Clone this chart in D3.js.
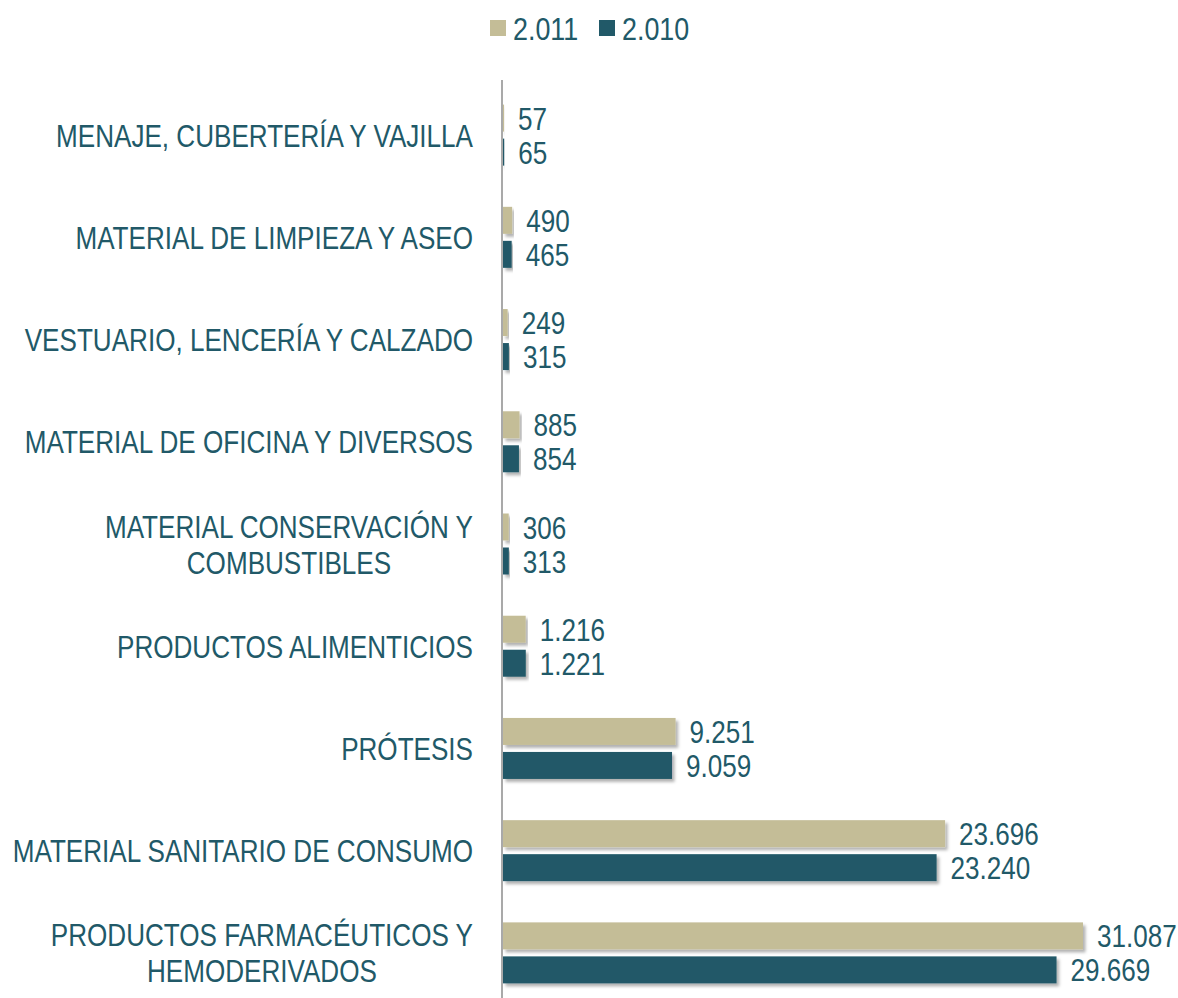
<!DOCTYPE html>
<html>
<head>
<meta charset="utf-8">
<script src="https://cdn.jsdelivr.net/npm/d3@7"></script>
<style>
  body { margin: 0; background: #fff; }
  svg text { font-family: 'Liberation Sans', Arial, sans-serif; fill: #215968; font-size: 32px; }
</style>
</head>
<body>
<svg id="chart"></svg>
<script>
// data
const categories = [
    'MENAJE, CUBERTERÍA Y VAJILLA',
    'MATERIAL DE LIMPIEZA Y ASEO',
    'VESTUARIO, LENCERÍA Y CALZADO',
    'MATERIAL DE OFICINA Y DIVERSOS',
    'MATERIAL CONSERVACIÓN Y|COMBUSTIBLES',
    'PRODUCTOS ALIMENTICIOS',
    'PRÓTESIS',
    'MATERIAL SANITARIO DE CONSUMO',
    'PRODUCTOS FARMACÉUTICOS Y|HEMODERIVADOS'
]
const series = ['2.011', '2.010']
const values2011 = [57, 490, 249, 885, 306, 1216, 9251, 23696, 31087]
const values2010 = [65, 465, 315, 854, 313, 1221, 9059, 23240, 29669]
const colors = ['#c4bd97', '#215968']

const chart = {}
chart.width_ = 1178
chart.height_ = 998
chart.narrow = 0.815   // no Arial Narrow here, so squeeze Liberation Sans

const esLocale = d3.formatLocale({ decimal: ',', thousands: '.', grouping: [3], currency: ['', ''] })
const fmt = esLocale.format(',d')

const rows = categories.map((c, i) => ({
    name: c,
    values: [values2011[i], values2010[i]]
}))

function place(x, y, k = chart.narrow) {
    return `translate(${x}, ${y}) scale(${k}, 1)`
}

chart.svg = d3.select('#chart')
    .attr('width', chart.width_)
    .attr('height', chart.height_)

// soft drop shadow under the bars
const defs = chart.svg.append('defs')
defs.append('filter')
    .attr('id', 'shadow')
    .attr('x', '-5%').attr('y', '-30%')
    .attr('width', '115%').attr('height', '190%')
    .append('feDropShadow')
    .attr('dx', 2.5).attr('dy', 3)
    .attr('stdDeviation', 1.8)
    .attr('flood-color', '#000')
    .attr('flood-opacity', 0.3)

// scales
chart.y = d3.scaleBand()
    .domain(categories)
    .range([84, 1004])
    .padding(0)

chart.inner = d3.scaleBand()
    .domain(series)
    .range([-30.5, 30.5])
    .paddingInner(7 / 34)

chart.x = d3.scaleLinear()
    .domain([0, d3.max(values2011.concat(values2010))])
    .range([503, 1083])

const g = chart.svg.append('g')

// bars
const group = g.selectAll('g.cat')
    .data(rows)
    .enter().append('g')
    .attr('class', 'cat')
    .attr('transform', d => `translate(0, ${chart.y(d.name) + chart.y.bandwidth() / 2})`)

group.selectAll('rect')
    .data(d => d.values.map((v, j) => ({ key: series[j], value: v, color: colors[j] })))
    .enter().append('rect')
    .attr('x', chart.x(0))
    .attr('y', d => chart.inner(d.key))
    .attr('width', d => Math.max(1, chart.x(d.value) - chart.x(0)))
    .attr('height', chart.inner.bandwidth())
    .attr('fill', d => d.color)
    .attr('filter', 'url(#shadow)')

// value labels
group.selectAll('text.value')
    .data(d => d.values.map((v, j) => ({ key: series[j], value: v })))
    .enter().append('text')
    .attr('class', 'value')
    .attr('transform', d => place(chart.x(d.value) + 14, chart.inner(d.key) + chart.inner.bandwidth() / 2))
    .attr('dy', '0.36em')
    .text(d => fmt(d.value))

// category labels (two-line ones are centred on their widest line)
const labelRight = 473
group.each(function(d) {
    const lines = d.name.split('|')
    const t = d3.select(this).append('text')
        .attr('class', 'cat-label')
    const lh = 36
    lines.forEach((line, k) => {
        t.append('tspan')
            .attr('x', 0)
            .attr('y', (k - (lines.length - 1) / 2) * lh)
            .attr('dy', '0.36em')
            .text(line)
    })
    if (lines.length === 1) {
        t.attr('text-anchor', 'end')
            .attr('transform', place(labelRight, 0))
    } else {
        const w = d3.max(t.selectAll('tspan').nodes(), n => n.getComputedTextLength()) * chart.narrow
        t.attr('text-anchor', 'middle')
            .attr('transform', place(labelRight - w / 2, 0))
    }
})

// axis line
g.append('line')
    .attr('x1', chart.x(0) - 1).attr('x2', chart.x(0) - 1)
    .attr('y1', 80).attr('y2', 998)
    .attr('stroke', '#8c8c8c')
    .attr('stroke-width', 1.5)

// legend
const legend = chart.svg.append('g')
    .attr('transform', 'translate(490, 28)')
const legItem = legend.selectAll('g')
    .data(series)
    .enter().append('g')
    .attr('transform', (d, i) => `translate(${i * 109}, 0)`)
legItem.append('rect')
    .attr('x', 0).attr('y', -8)
    .attr('width', 16).attr('height', 16)
    .attr('fill', (d, i) => colors[i])
legItem.append('text')
    .attr('transform', place(23, 0, 0.84))
    .attr('dy', '0.36em')
    .text(d => d)
</script>
</body>
</html>
